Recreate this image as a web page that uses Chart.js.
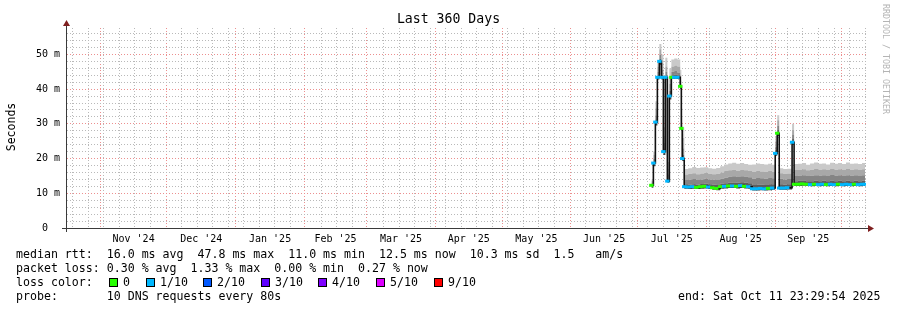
<!DOCTYPE html>
<html>
<head>
<meta charset="utf-8">
<script src="https://cdn.jsdelivr.net/npm/chart.js@4.4.1/dist/chart.umd.min.js"></script>
<style>
  body { margin: 0; background: #fff; }
  #wrap { position: relative; width: 897px; height: 310px; font-family: "DejaVu Sans Mono", monospace; color: #000; }
  #wrap canvas { position: absolute; left: 0; top: 0; }
  .t { position: absolute; white-space: pre; }
  .leg { font-size: 11.6px; line-height: 14px; left: 16px; }
  .sq { position: absolute; top: 278px; width: 7px; height: 7px; border: 1px solid #000; }
  .sql { position: absolute; top: 275px; font-size: 11.6px; line-height: 14px; }
</style>
</head>
<body>
<div id="wrap">
  <canvas id="smoke" width="897" height="310"></canvas>
  <div class="t" style="top:11px;left:0;width:897px;text-align:center;font-size:13.2px;line-height:16px;">Last 360 Days</div>
  <div class="t" style="left:-20px;top:119px;width:62px;height:16px;text-align:center;font-size:11.5px;line-height:16px;transform:rotate(-90deg);">Seconds</div>
  <div class="t" style="left:881px;top:4px;writing-mode:vertical-rl;font-size:8.3px;color:#b4b4b4;">RRDTOOL / TOBI OETIKER</div>
  <div class="t leg" style="top:247px;">median rtt:  16.0 ms avg  47.8 ms max  11.0 ms min  12.5 ms now  10.3 ms sd  1.5   am/s</div>
  <div class="t leg" style="top:261px;">packet loss: 0.30 % avg  1.33 % max  0.00 % min  0.27 % now</div>
  <div class="t leg" style="top:275px;">loss color:</div>
  <div id="lossLegend"></div>
  <div class="t leg" style="top:289px;">probe:       10 DNS requests every 80s</div>
  <div class="t leg" style="top:289px;left:678px;">end: Sat Oct 11 23:29:54 2025</div>
</div>
<script>
// days since window start (Oct 16 2024 23:29:54)
const dayOffset = [263.3, 264.2, 265.1, 266.0, 266.9, 267.8, 268.7, 269.6, 270.5, 271.4,
  272.3, 273.6, 275.0, 276.3, 276.8, 277.2,
  278.1, 279.9, 281.7, 283.5, 285.3, 287.1, 288.9, 290.7, 292.5, 294.3, 296.1,
  297.9, 299.7, 301.5, 303.3, 305.1, 306.9,
  308.7, 310.5, 312.3, 314.1, 315.9, 317.7,
  319.1, 320.0,
  320.9, 322.7, 324.5,
  326.7,
  327.6, 329.4, 331.2, 333.0, 334.8, 336.6, 338.4, 340.2, 342.0, 343.8, 345.6, 347.4, 349.2, 351.0, 352.8, 354.6, 356.4, 358.2, 359.6];

// ms
const rttMin = [11.6, 17.8, 29.5, 42.8, 47.0, 42.8, 21.0, 42.8, 13.0, 37.0,
  42.9, 42.9, 42.9, 40.0, 28.0, 19.3,
  11.3, 11.2, 11.3, 11.2, 11.3, 11.4, 11.2, 11.0, 10.9, 11.3, 11.4,
  11.5, 11.5, 11.4, 11.5, 11.4, 11.3,
  10.8, 10.8, 10.9, 10.8, 10.9, 11.0,
  20.8, 26.5,
  11.0, 11.0, 11.1,
  24.0,
  12.1, 12.1, 12.2, 12.1, 12.0, 12.1, 12.0, 12.1, 12.0, 12.1, 12.0, 12.1, 12.0, 12.1, 12.0, 12.1, 12.0, 12.1, 12.1];
const rttMedian = [12.3, 18.7, 30.5, 43.4, 48.0, 43.4, 22.0, 43.4, 13.5, 38.0,
  43.4, 43.4, 43.4, 40.8, 28.7, 20.0,
  11.9, 11.8, 11.9, 11.7, 11.9, 12.0, 11.8, 11.6, 11.4, 11.9, 12.0,
  12.1, 12.1, 12.0, 12.2, 12.0, 11.9,
  11.3, 11.3, 11.4, 11.3, 11.4, 11.5,
  21.5, 27.3,
  11.5, 11.5, 11.6,
  24.7,
  12.6, 12.6, 12.7, 12.6, 12.5, 12.6, 12.5, 12.6, 12.5, 12.6, 12.5, 12.6, 12.5, 12.6, 12.5, 12.6, 12.5, 12.6, 12.6];
const rttQ1 = [12.8, 19.2, 31.3, 44.0, 48.8, 44.2, 23.0, 44.0, 14.2, 39.5,
  44.0, 44.2, 44.0, 41.5, 29.5, 21.0,
  12.6, 12.5, 12.6, 12.5, 12.7, 12.8, 12.6, 12.5, 12.4, 12.8, 12.9,
  13.0, 13.1, 13.0, 13.2, 13.0, 12.9,
  12.4, 12.5, 12.5, 12.4, 12.6, 12.6,
  22.5, 28.2,
  12.6, 12.5, 12.6,
  25.6,
  13.5, 13.6, 13.7, 13.5, 13.5, 13.6, 13.5, 13.6, 13.5, 13.6, 13.5, 13.6, 13.5, 13.6, 13.5, 13.6, 13.5, 13.6, 13.6];
const rttQ2 = [13.2, 20.0, 32.5, 45.0, 50.0, 45.5, 24.5, 45.0, 15.5, 41.5,
  45.0, 45.2, 44.8, 42.5, 30.5, 23.0,
  13.8, 13.9, 14.1, 13.8, 14.0, 14.2, 14.0, 13.9, 13.8, 14.2, 14.5,
  14.8, 14.9, 14.7, 14.9, 14.8, 14.6,
  14.2, 14.4, 14.3, 14.2, 14.4, 14.3,
  23.5, 29.5,
  14.2, 14.0, 14.1,
  26.8,
  15.0, 15.1, 15.2, 15.0, 15.1, 15.2, 15.1, 15.2, 15.0, 15.3, 15.1, 15.2, 15.0, 15.2, 15.1, 15.2, 15.0, 15.2, 15.1];
const rttQ3 = [13.6, 21.0, 34.5, 46.5, 51.5, 47.5, 26.5, 46.5, 17.0, 43.5,
  46.5, 46.8, 46.5, 44.0, 32.0, 26.0,
  15.4, 15.6, 15.8, 15.5, 15.7, 15.9, 15.6, 15.5, 15.6, 16.0, 16.4,
  16.6, 16.8, 16.5, 16.7, 16.6, 16.4,
  16.2, 16.5, 16.3, 16.2, 16.4, 16.2,
  25.0, 31.0,
  15.8, 15.6, 15.7,
  28.3,
  16.7, 16.8, 16.9, 16.6, 16.8, 17.0, 16.8, 16.9, 16.7, 17.0, 16.8, 16.9, 16.7, 17.0, 16.8, 16.9, 16.7, 16.9, 16.8];
const rttMax = [14.0, 22.0, 36.5, 48.0, 53.0, 50.0, 29.0, 49.0, 19.0, 46.0,
  48.5, 48.8, 48.5, 45.5, 34.5, 29.0,
  17.0, 17.2, 17.6, 17.3, 17.4, 17.5, 17.2, 17.1, 17.3, 17.8, 18.3,
  18.6, 18.8, 18.5, 18.7, 18.4, 18.2,
  18.3, 18.6, 18.4, 18.3, 18.5, 18.2,
  26.5, 32.5,
  17.2, 17.0, 17.1,
  30.0,
  18.4, 18.5, 18.7, 18.2, 18.6, 18.9, 18.5, 18.6, 18.3, 18.8, 18.5, 18.7, 18.4, 18.9, 18.5, 18.6, 18.4, 18.7, 18.5];
// lost pings out of 10
const lossTenths = [0, 1, 1, 1, 1, 1, 1, 1, 1, 1,
  0, 1, 1, 0, 0, 1,
  1, 1, 1, 0, 0, 0, 1, 0, 0, 0, 1,
  0, 1, 0, 1, 0, 1,
  1, 1, 1, 1, 0, 1,
  1, 0,
  1, 1, 1,
  1,
  0, 0, 0, 0, 1, 0, 1, 1, 0, 1, 1, 0, 1, 1, 1, 0, 1, 1, 1];

const lossColors = {0: '#26ff00', 1: '#00b8ff', 2: '#0059ff', 3: '#5e00ff', 4: '#7e00ff', 5: '#dd00ff', 9: '#ff0000'};
const lossLegend = ['0', '1/10', '2/10', '3/10', '4/10', '5/10', '9/10'];
const lossLegendKeys = [0, 1, 2, 3, 4, 5, 9];

const monthLabels = ["Nov '24", "Dec '24", "Jan '25", "Feb '25", "Mar '25", "Apr '25", "May '25", "Jun '25", "Jul '25", "Aug '25", "Sep '25"];
const monthLabelDays = [30.0, 60.5, 91.5, 121.0, 150.5, 181.0, 211.5, 242.0, 272.5, 303.5, 334.0];
const monthStartDays = [15.0, 45.0, 76.0, 107.0, 135.0, 166.0, 196.0, 227.0, 257.0, 288.0, 319.0, 349.0];
const weekStartDay = 2.6;
const yTicks = [0, 2, 4, 6, 8, 10, 12, 14, 16, 18, 20, 22, 24, 26, 28, 30, 32, 34, 36, 38, 40, 42, 44, 46, 48, 50, 52, 54, 56];

// legend squares
const legBox = document.getElementById('lossLegend');
const legX = [109, 146, 203, 261, 318, 376, 434];
lossLegendKeys.forEach((k, i) => {
  const sq = document.createElement('div');
  sq.className = 'sq';
  sq.style.left = legX[i] + 'px';
  sq.style.background = lossColors[k];
  legBox.appendChild(sq);
  const lb = document.createElement('div');
  lb.className = 'sql';
  lb.style.left = (legX[i] + 14) + 'px';
  lb.textContent = lossLegend[i];
  legBox.appendChild(lb);
});

const pts = arr => dayOffset.map((d, i) => ({x: d, y: arr[i]}));

// weekly minor lines, month lines take over where they coincide
const weekDays = [];
for (let d = weekStartDay; d < 360; d += 7) {
  if (!monthStartDays.some(m => Math.abs(m - d) < 1.2)) weekDays.push(+d.toFixed(2));
}
const xTickKind = new Map();
weekDays.forEach(d => xTickKind.set(d, 'week'));
monthStartDays.forEach(d => xTickKind.set(d, 'month'));
monthLabelDays.forEach(d => xTickKind.set(d, 'label'));
const xTickValues = [...xTickKind.keys()].sort((a, b) => a - b);

function band(arr, color) {
  return {
    data: pts(arr), stepped: true, fill: '-1', backgroundColor: color,
    borderWidth: 0, pointRadius: 0, order: 3
  };
}

const axisArrows = {
  id: 'axisArrows',
  afterDraw(chart) {
    const {ctx, chartArea: a} = chart;
    ctx.save();
    ctx.strokeStyle = '#3a3a3a';
    ctx.lineWidth = 1;
    ctx.beginPath();
    ctx.moveTo(a.left - 5, a.bottom + 0.5);
    ctx.lineTo(a.right + 3, a.bottom + 0.5);
    ctx.moveTo(a.left - 0.5, a.bottom + 4);
    ctx.lineTo(a.left - 0.5, a.top - 3);
    ctx.stroke();
    ctx.fillStyle = '#7f1f1f';
    ctx.beginPath();
    ctx.moveTo(a.right + 2, a.bottom - 3);
    ctx.lineTo(a.right + 8, a.bottom + 0.5);
    ctx.lineTo(a.right + 2, a.bottom + 4);
    ctx.fill();
    ctx.beginPath();
    ctx.moveTo(a.left - 4, a.top - 2);
    ctx.lineTo(a.left - 0.5, a.top - 8);
    ctx.lineTo(a.left + 3, a.top - 2);
    ctx.fill();
    ctx.restore();
  }
};

new Chart(document.getElementById('smoke'), {
  type: 'line',
  data: {
    datasets: [
      {data: pts(rttMin), stepped: true, fill: false, borderWidth: 0, pointRadius: 0, order: 3},
      band(rttMedian, '#444444'),
      band(rttQ1, '#5e5e5e'),
      band(rttQ2, '#858585'),
      band(rttQ3, '#a8a8a8'),
      band(rttMax, '#c9c9c9'),
      {data: pts(rttMedian), stepped: true, fill: false, borderColor: '#111111', borderWidth: 1.6, pointRadius: 0, order: 1},
      {data: pts(rttMedian), showLine: false, pointStyle: 'line', pointRadius: 2.2, pointBorderWidth: 3,
        pointBorderColor: lossTenths.map(l => lossColors[l]), order: 0}
    ]
  },
  options: {
    responsive: false,
    animation: false,
    events: [],
    layout: {padding: {left: 0, top: 28, right: 31, bottom: 62}},
    plugins: {legend: {display: false}, tooltip: {enabled: false}},
    scales: {
      x: {
        type: 'linear', min: 0, max: 360,
        afterBuildTicks: s => { s.ticks = xTickValues.map(v => ({value: v})); },
        afterFit: s => { s.height = 20; },
        ticks: {
          autoSkip: false, maxRotation: 0, padding: 5, color: '#000',
          font: {family: 'DejaVu Sans Mono', size: 10},
          callback: v => {
            const i = monthLabelDays.indexOf(v);
            return i >= 0 ? monthLabels[i] : '';
          }
        },
        grid: {
          drawTicks: false,
          color: c => {
            const k = c.tick ? xTickKind.get(c.tick.value) : null;
            if (k === 'month') return '#ec8f8f';
            if (k === 'week') return '#b9b9b9';
            return 'rgba(0,0,0,0)';
          }
        },
        border: {display: false, dash: [1, 2]}
      },
      y: {
        type: 'linear', min: 0, max: 57.6,
        afterBuildTicks: s => { s.ticks = yTicks.map(v => ({value: v})); },
        afterFit: s => { s.width = 67; },
        ticks: {
          autoSkip: false, padding: 7, color: '#000',
          font: {family: 'DejaVu Sans Mono', size: 10},
          callback: v => v % 10 === 0 ? (v === 0 ? '0  ' : v + ' m') : ''
        },
        grid: {
          drawTicks: false,
          color: c => {
            const v = c.tick ? c.tick.value : null;
            if (v === 0) return 'rgba(0,0,0,0)';
            return v % 10 === 0 ? '#ec8f8f' : '#b9b9b9';
          }
        },
        border: {display: false, dash: [1, 2]}
      }
    }
  },
  plugins: [axisArrows]
});
</script>
</body>
</html>
